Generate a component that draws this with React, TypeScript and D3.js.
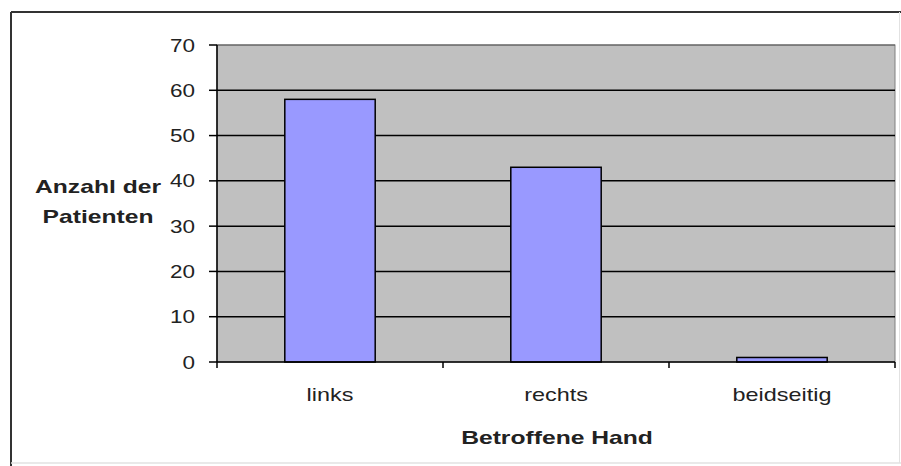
import React from "react";
import * as d3 from "d3";

const categories = ["links", "rechts", "beidseitig"];
const patients = [58, 43, 1];
const yTicks = [0, 10, 20, 30, 40, 50, 60, 70];
const yTitleLines = ["Anzahl der", "Patienten"];
const xTitle = "Betroffene Hand";

const W = 901;
const H = 466;
const plot = { left: 217, right: 895, top: 45, bottom: 362 };
const FONT = "'Liberation Sans', Arial, Helvetica, sans-serif";

export default function App() {
  const x = d3
    .scaleBand<string>()
    .domain(categories)
    .range([plot.left, plot.right])
    .paddingInner(0)
    .paddingOuter(0);
  const y = d3.scaleLinear().domain([0, 70]).range([plot.bottom, plot.top]);
  const bw = x.bandwidth() / 2.5;
  const boundaries = [...categories.map((c) => x(c) as number), plot.right];

  const wide = (tx: number, ty: number, s: number) => `translate(${tx},${ty}) scale(${s},1)`;

  return (
    <svg
      width={W}
      height={H}
      style={{ position: "absolute", left: 0, top: 0, background: "#fff" }}
      fontFamily={FONT}
    >
      {/* chart frame */}
      <line x1={11} y1={12} x2={W} y2={12} stroke="#333" strokeWidth={2} />
      <line x1={11} y1={12} x2={11} y2={H} stroke="#333" strokeWidth={2} />
      <line x1={11} y1={463} x2={W} y2={463} stroke="#e2e2e2" strokeWidth={1.5} />
      <line x1={899.5} y1={12} x2={899.5} y2={463} stroke="#e2e2e2" strokeWidth={1} />

      {/* plot area */}
      <rect
        x={plot.left}
        y={plot.top}
        width={plot.right - plot.left}
        height={plot.bottom - plot.top}
        fill="#c0c0c0"
        stroke="#808080"
        strokeWidth={1}
      />

      {/* gridlines */}
      {yTicks
        .filter((t) => t > 0)
        .map((t) => (
          <line
            key={t}
            x1={plot.left}
            x2={plot.right}
            y1={y(t)}
            y2={y(t)}
            stroke={t === 70 ? "#555" : "#000"}
            strokeWidth={t === 70 ? 1 : 1.5}
          />
        ))}

      {/* bars */}
      {categories.map((c, i) => {
        const cx = (x(c) as number) + x.bandwidth() / 2;
        return (
          <rect
            key={c}
            x={cx - bw / 2}
            y={y(patients[i])}
            width={bw}
            height={y(0) - y(patients[i])}
            fill="#9999ff"
            stroke="#000"
            strokeWidth={1.5}
          />
        );
      })}

      {/* y axis */}
      <line x1={plot.left} x2={plot.left} y1={plot.top} y2={plot.bottom} stroke="#000" strokeWidth={1.5} />
      {yTicks.map((t) => (
        <g key={t}>
          <line x1={plot.left - 8} x2={plot.left} y1={y(t)} y2={y(t)} stroke="#000" strokeWidth={1.5} />
          <text
            transform={wide(195, y(t) + 6.5, 1.25)}
            textAnchor="end"
            fontSize={18}
            fill="#222"
          >
            {t}
          </text>
        </g>
      ))}

      {/* x axis */}
      <line x1={plot.left} x2={plot.right} y1={plot.bottom} y2={plot.bottom} stroke="#000" strokeWidth={1.5} />
      {boundaries.map((bx, i) => (
        <line key={i} x1={bx} x2={bx} y1={plot.bottom} y2={plot.bottom + 6} stroke="#000" strokeWidth={1.5} />
      ))}
      {categories.map((c) => (
        <text
          key={c}
          transform={wide((x(c) as number) + x.bandwidth() / 2, 401, 1.3)}
          textAnchor="middle"
          fontSize={18}
          fill="#222"
        >
          {c}
        </text>
      ))}

      {/* axis titles */}
      {yTitleLines.map((line, i) => (
        <text
          key={line}
          transform={wide(98, 193 + i * 30, 1.37)}
          textAnchor="middle"
          fontSize={18}
          fontWeight="bold"
          fill="#222"
        >
          {line}
        </text>
      ))}
      <text transform={wide(557, 444, 1.37)} textAnchor="middle" fontSize={18} fontWeight="bold" fill="#222">
        {xTitle}
      </text>
    </svg>
  );
}
